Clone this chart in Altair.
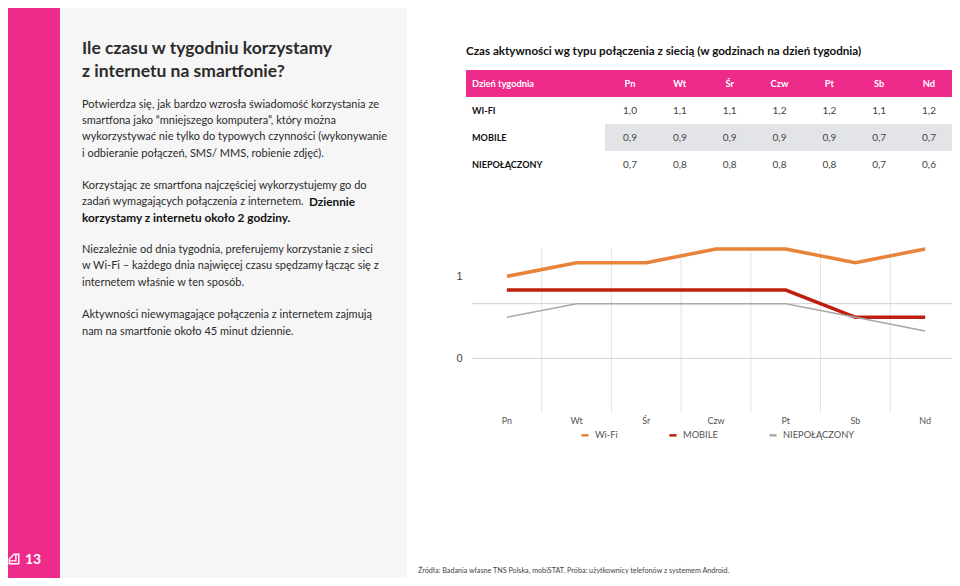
import altair as alt
import pandas as pd

# ---------- data ----------
days = ["Pn", "Wt", "Śr", "Czw", "Pt", "Sb", "Nd"]
series_names = ["Wi-Fi", "MOBILE", "NIEPOŁĄCZONY"]
row_names = ["WI-FI", "MOBILE", "NIEPOŁĄCZONY"]
wifi = [1.0, 1.1, 1.1, 1.2, 1.2, 1.1, 1.2]
mobile = [0.9, 0.9, 0.9, 0.9, 0.9, 0.7, 0.7]
offline = [0.7, 0.8, 0.8, 0.8, 0.8, 0.7, 0.6]
h_grid = [0.8, 0.4]
y_ticks = [1.0, 0.4]

chart_title = "Czas aktywności wg typu połączenia z siecią (w godzinach na dzień tygodnia)"
header_label = "Dzień tygodnia"
heading = ["Ile czasu w tygodniu korzystamy", "z internetu na smartfonie?"]
para1 = ["Potwierdza się, jak bardzo wzrosła świadomość korzystania ze",
         "smartfona jako “mniejszego komputera”, który można",
         "wykorzystywać nie tylko do typowych czynności (wykonywanie",
         "i odbieranie połączeń, SMS/ MMS, robienie zdjęć)."]
para2 = ["Korzystając ze smartfona najczęściej wykorzystujemy go do",
         "zadań wymagających połączenia z internetem."]
para2_bold = ["Dziennie", "korzystamy z internetu około 2 godziny."]
para3 = ["Niezależnie od dnia tygodnia, preferujemy korzystanie z sieci",
         "w Wi-Fi – każdego dnia najwięcej czasu spędzamy łącząc się z",
         "internetem właśnie w ten sposób."]
para4 = ["Aktywności niewymagające połączenia z internetem zajmują",
         "nam na smartfonie około 45 minut dziennie."]
source = "Źródła: Badania własne TNS Polska, mobiSTAT. Próba: użytkownicy telefonów z systemem Android."
page_no = "13"

# ---------- style ----------
FONT = "Lato"
PINK = "#EE2A8A"
INK = "#2B2B2B"
VIEW_X, VIEW_Y = 472, 249   # page position of the plot area


def px(x):
    return x - VIEW_X


def py(y):
    return y - VIEW_Y


ONE = pd.DataFrame({"a": [0]})


def rect(x0, x1, y0, y1, color):
    return alt.Chart(ONE).mark_rect(color=color).encode(
        x=alt.value(px(x0)), x2=alt.value(px(x1)),
        y=alt.value(py(y0)), y2=alt.value(py(y1)))


def txt(s, x, y, size, weight=400, color=INK, align="left", font=FONT):
    return alt.Chart(pd.DataFrame({"t": [s]})).mark_text(
        font=font, fontSize=size, fontWeight=weight, color=color,
        align=align, baseline="middle").encode(
        x=alt.value(px(x)), y=alt.value(py(y + 1)), text="t:N")


layers = [
    rect(8, 60, 8, 586, PINK),
    rect(60, 407, 8, 586, "#F6F6F6"),
    rect(466, 954, 70, 97, PINK),
    rect(605, 954, 124, 151, "#E2E4E7"),
]

# left text column
for s, y in zip(heading, [48, 71]):
    layers.append(txt(s, 82, y, 17.5, 700))
for lines_, ys in [(para1, [104, 120, 136, 153]), (para2, [185, 201]),
                   (para3, [249, 265, 282]), (para4, [314, 331])]:
    for s, y in zip(lines_, ys):
        layers.append(txt(s, 82, y, 11))
layers.append(txt(para2_bold[0], 309, 201, 11.8, 700, "#111111"))
layers.append(txt(para2_bold[1], 82, 217, 11.8, 700, "#111111"))

# footer
layers.append(txt(source, 418, 570, 7.2, 400, "#444444"))
layers.append(txt(page_no, 25, 559, 14, 700, "white"))
layers.append(alt.Chart(ONE).mark_point(
    shape="M-1,1 L-1,0 L0,-1 L1,-1 L1,1 Z M-1,0.4 L0.4,0.4 L0.4,-1",
    filled=False, stroke="white", strokeWidth=1.4, size=90, opacity=1).encode(
    x=alt.value(px(14)), y=alt.value(py(559))))

# table
layers.append(txt(chart_title, 466, 51, 11.65, 700, "#111111"))
layers.append(txt(header_label, 472, 83, 9.3, 700, "white"))
for s, y in zip(row_names, [110, 137, 164]):
    layers.append(txt(s, 472, y, 9.1, 700, "#111111"))

table_df = pd.DataFrame(
    [{"row": r, "day": d, "v": v}
     for r, vals in zip(row_names, [wifi, mobile, offline])
     for d, v in zip(days, vals)])
col_scale = alt.Scale(type="point", domain=days, range=[px(630), px(929)], padding=0)
head_df = pd.DataFrame({"day": days})
layers.append(alt.Chart(head_df).mark_text(
    font=FONT, fontSize=9.3, fontWeight=700, color="white", baseline="middle").encode(
    x=alt.X("day:N", scale=col_scale, axis=None),
    y=alt.value(py(84)), text="day:N"))
layers.append(alt.Chart(table_df).transform_calculate(
    label="replace(format(datum.v, '.1f'), '.', ',')").mark_text(
    font=FONT, fontSize=10, color="#444444", baseline="middle").encode(
    x=alt.X("day:N", scale=col_scale, axis=None),
    y=alt.Y("row:N", scale=alt.Scale(type="point", domain=row_names, padding=0,
                                     range=[py(111), py(165)]), axis=None),
    text="label:N"))

# line chart
long_df = pd.DataFrame(
    [{"series": n, "day": d, "v": v}
     for n, vals in zip(series_names, [wifi, mobile, offline])
     for d, v in zip(days, vals)])
x_scale = alt.Scale(type="band", domain=days, paddingInner=0, paddingOuter=0, range=[0, 488])
y_scale = alt.Scale(domain=[0, 1.2], nice=False, zero=True)

vgrid = alt.Chart(pd.DataFrame({"day": days[:-1]})).mark_rule(
    color="#E4E4E4", strokeWidth=1).encode(
    x=alt.X("day:N", scale=x_scale, bandPosition=1, axis=None))
hgrid = alt.Chart(pd.DataFrame({"v": h_grid})).mark_rule(
    color="#D2D2D2", strokeWidth=1).encode(
    y=alt.Y("v:Q", scale=y_scale, axis=None))
lines = alt.Chart(long_df).mark_line(strokeCap="butt", strokeJoin="miter").encode(
    x=alt.X("day:N", scale=x_scale, sort=None, title=None,
            axis=alt.Axis(labelAngle=0, domain=False, ticks=False, grid=False,
                          labelFont=FONT, labelFontSize=9, labelColor="#555555",
                          labelPadding=3)),
    y=alt.Y("v:Q", scale=y_scale, title=None,
            axis=alt.Axis(values=y_ticks, domain=False, ticks=False, grid=False,
                          labelExpr="datum.value == 1 ? '1' : '0'",
                          labelFont="Liberation Sans", labelFontSize=11,
                          labelColor="#444444", labelPadding=10)),
    color=alt.Color("series:N", sort=None,
                    scale=alt.Scale(domain=series_names,
                                    range=["#E8833A", "#BE1E0D", "#A8A8A8"]),
                    legend=alt.Legend(orient="none", legendX=px(580), legendY=py(430),
                                      direction="horizontal", title=None,
                                      symbolType="stroke", symbolSize=50,
                                      symbolStrokeWidth=2.5,
                                      columnPadding=46, labelOffset=5,
                                      labelFont=FONT, labelFontSize=9.3,
                                      labelColor="#555555", padding=0)),
    strokeWidth=alt.condition("datum.series == 'NIEPOŁĄCZONY'", alt.value(1.5), alt.value(3.5)),
)
layers.extend([vgrid, hgrid, lines])

chart = alt.layer(*layers).resolve_scale(x="independent", y="independent").properties(
    width=480, height=164,
    padding={"left": VIEW_X - 8, "top": VIEW_Y - 8, "right": 0, "bottom": 570 - (VIEW_Y - 8) - 164},
    autosize=alt.AutoSizeParams(type="none"),
).configure_view(stroke=None)

chart.save("out.html", embed_options={"renderer": "svg", "actions": False})
